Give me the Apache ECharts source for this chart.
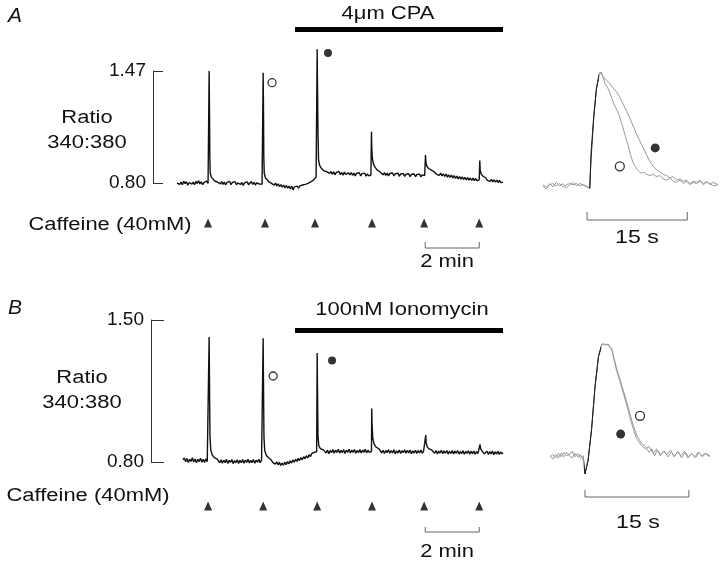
<!DOCTYPE html>
<html>
<head>
<meta charset="utf-8">
<script src="https://cdn.jsdelivr.net/npm/echarts@6/dist/echarts.min.js"></script>
<style>
  html, body { margin: 0; background: #fff; }
  #chart { width: 726px; height: 566px; }
</style>
</head>
<body>
<div id="chart"></div>
<script>
// ---- data (time in min for the long traces, s for the insets) ----
const traceA = [
  [0.00,0.800],[0.05,0.810],[0.10,0.792],[0.15,0.806],[0.20,0.789],[0.25,0.811],[0.30,0.796],[0.35,0.808],[0.40,0.787],[0.45,0.803],
  [0.50,0.812],[0.55,0.793],[0.60,0.806],[0.65,0.790],[0.70,0.809],[0.75,0.797],[0.80,0.814],[0.85,0.794],[0.90,0.808],[0.95,0.790],
  [1.00,0.804],[1.05,0.793],[1.10,0.811],[1.15,0.797],
  [1.18,0.802],[1.19,1.47],[1.20,1.30],[1.215,0.96],[1.23,0.86],[1.27,0.835],[1.34,0.825],[1.40,0.812],[1.45,0.820],[1.50,0.806],
  [1.55,0.814],[1.60,0.795],[1.65,0.808],[1.70,0.792],[1.75,0.806],[1.80,0.788],[1.85,0.804],[1.90,0.794],[1.95,0.810],[2.00,0.790],
  [2.05,0.803],[2.10,0.792],[2.15,0.808],[2.20,0.789],[2.25,0.801],[2.30,0.809],[2.35,0.791],[2.40,0.803],[2.45,0.786],[2.50,0.801],
  [2.55,0.793],[2.60,0.807],[2.65,0.790],[2.70,0.800],[2.75,0.809],[2.80,0.792],[2.85,0.804],[2.90,0.788],[2.95,0.801],[3.00,0.809],
  [3.05,0.794],[3.10,0.805],[3.15,0.793],
  [3.18,0.801],[3.19,1.46],[3.20,1.28],[3.215,0.95],[3.23,0.86],[3.27,0.832],[3.34,0.820],[3.40,0.806],[3.45,0.812],[3.50,0.798],
  [3.55,0.803],[3.60,0.787],[3.65,0.799],[3.70,0.783],[3.75,0.795],[3.80,0.778],[3.85,0.791],[3.90,0.775],[3.95,0.788],[4.00,0.771],
  [4.05,0.785],[4.10,0.769],[4.15,0.782],[4.20,0.765],[4.25,0.780],[4.30,0.758],[4.35,0.777],[4.40,0.767],[4.45,0.781],[4.50,0.769],
  [4.55,0.783],[4.60,0.773],[4.65,0.788],[4.70,0.777],[4.75,0.792],[4.80,0.783],[4.85,0.798],[4.90,0.790],[4.95,0.806],[5.00,0.802],
  [5.05,0.817],[5.10,0.820],[5.15,0.836],
  [5.18,0.840],[5.19,1.60],[5.20,1.42],[5.22,1.10],[5.24,0.94],[5.28,0.905],[5.36,0.885],[5.45,0.872],[5.54,0.868],
  [5.60,0.875],[5.65,0.857],[5.70,0.869],[5.75,0.852],[5.80,0.867],[5.85,0.849],[5.90,0.864],[5.95,0.854],[6.00,0.869],[6.05,0.850],
  [6.10,0.863],[6.15,0.847],[6.20,0.865],[6.25,0.852],[6.30,0.844],[6.35,0.861],[6.40,0.848],[6.45,0.863],[6.50,0.846],[6.55,0.859],
  [6.60,0.843],[6.65,0.858],[6.70,0.847],[6.75,0.861],[6.80,0.842],[6.85,0.856],[6.90,0.845],[6.95,0.859],[7.00,0.841],[7.05,0.855],
  [7.10,0.843],[7.15,0.852],
  [7.18,0.848],[7.20,1.107],[7.21,1.02],[7.23,0.95],[7.27,0.915],[7.33,0.895],[7.40,0.880],[7.46,0.872],[7.52,0.866],
  [7.58,0.863],[7.63,0.849],[7.68,0.862],[7.73,0.845],[7.78,0.859],[7.83,0.843],[7.88,0.857],[7.93,0.846],[7.98,0.860],[8.03,0.842],
  [8.08,0.855],[8.13,0.844],[8.18,0.858],[8.23,0.840],[8.28,0.854],[8.33,0.843],[8.38,0.856],[8.43,0.839],[8.48,0.853],[8.53,0.842],
  [8.58,0.855],[8.63,0.838],[8.68,0.852],[8.73,0.841],[8.78,0.854],[8.83,0.837],[8.88,0.851],[8.93,0.840],[8.98,0.853],[9.03,0.836],
  [9.08,0.849],[9.13,0.839],
  [9.17,0.845],[9.20,0.968],[9.215,0.925],[9.25,0.900],[9.31,0.888],[9.40,0.878],[9.50,0.870],
  [9.56,0.865],[9.61,0.852],[9.66,0.863],[9.71,0.845],[9.76,0.859],[9.81,0.842],[9.86,0.855],[9.91,0.839],[9.96,0.853],[10.01,0.835],
  [10.06,0.849],[10.11,0.833],[10.16,0.847],[10.21,0.830],[10.26,0.844],[10.31,0.828],[10.36,0.841],[10.41,0.825],[10.46,0.839],[10.51,0.823],
  [10.56,0.837],[10.61,0.821],[10.66,0.834],[10.71,0.819],[10.76,0.832],[10.81,0.817],[10.86,0.830],[10.91,0.815],[10.96,0.829],[11.01,0.814],
  [11.06,0.827],[11.11,0.813],[11.16,0.824],
  [11.19,0.820],[11.21,0.934],[11.225,0.880],[11.26,0.855],[11.32,0.842],[11.38,0.836],
  [11.44,0.830],[11.49,0.816],[11.54,0.826],[11.59,0.810],[11.64,0.822],[11.69,0.807],[11.74,0.819],[11.79,0.805],[11.84,0.817],[11.89,0.803],
  [11.94,0.815],[11.99,0.802],[12.04,0.811],[12.07,0.805]
];

const traceB = [
  [0.22,0.810],[0.27,0.820],[0.32,0.801],[0.37,0.817],[0.42,0.798],[0.47,0.814],[0.52,0.803],[0.57,0.821],[0.62,0.800],[0.67,0.815],
  [0.72,0.796],[0.77,0.813],[0.82,0.802],[0.87,0.818],[0.92,0.799],[0.97,0.814],[1.02,0.797],[1.07,0.816],[1.12,0.801],[1.16,0.810],
  [1.18,0.808],[1.19,1.416],[1.20,1.24],[1.22,0.93],[1.25,0.86],[1.30,0.835],[1.38,0.822],[1.48,0.815],
  [1.53,0.813],[1.58,0.796],[1.63,0.811],[1.68,0.794],[1.73,0.809],[1.78,0.797],[1.83,0.813],[1.88,0.793],[1.93,0.808],[1.98,0.798],
  [2.03,0.812],[2.08,0.792],[2.13,0.807],[2.18,0.796],[2.23,0.811],[2.28,0.793],[2.33,0.808],[2.38,0.797],[2.43,0.812],[2.48,0.794],
  [2.53,0.809],[2.58,0.798],[2.63,0.813],[2.68,0.795],[2.73,0.808],[2.78,0.797],[2.83,0.812],[2.88,0.794],[2.93,0.809],[2.98,0.799],
  [3.03,0.814],[3.08,0.796],[3.13,0.810],[3.16,0.803],
  [3.18,0.806],[3.19,1.41],[3.20,1.22],[3.22,0.92],[3.25,0.855],[3.31,0.832],[3.38,0.822],[3.44,0.815],
  [3.49,0.810],[3.54,0.798],[3.59,0.807],[3.64,0.790],[3.69,0.801],[3.74,0.786],[3.79,0.798],[3.84,0.783],[3.89,0.795],[3.94,0.784],
  [3.99,0.799],[4.04,0.787],[4.09,0.802],[4.14,0.791],[4.19,0.806],[4.24,0.795],[4.29,0.810],[4.34,0.799],[4.39,0.814],[4.44,0.803],
  [4.49,0.818],[4.54,0.807],[4.59,0.822],[4.64,0.811],[4.69,0.826],[4.74,0.816],[4.79,0.831],[4.84,0.820],[4.89,0.836],[4.94,0.826],
  [4.99,0.842],[5.04,0.833],[5.09,0.848],[5.14,0.840],[5.17,0.850],
  [5.18,0.852],[5.19,1.337],[5.20,1.18],[5.22,0.93],[5.25,0.880],[5.31,0.866],[5.36,0.862],[5.42,0.860],
  [5.47,0.860],[5.52,0.844],[5.57,0.859],[5.62,0.841],[5.67,0.857],[5.72,0.846],[5.77,0.862],[5.82,0.843],[5.87,0.858],[5.92,0.847],
  [5.97,0.863],[6.02,0.844],[6.07,0.857],[6.12,0.846],[6.17,0.861],[6.22,0.842],[6.27,0.858],[6.32,0.848],[6.37,0.863],[6.42,0.844],
  [6.47,0.859],[6.52,0.847],[6.57,0.862],[6.62,0.843],[6.67,0.857],[6.72,0.846],[6.77,0.861],[6.82,0.844],[6.87,0.859],[6.92,0.848],
  [6.97,0.863],[7.02,0.845],[7.07,0.858],[7.12,0.847],[7.17,0.855],
  [7.20,0.852],[7.21,1.064],[7.22,0.99],[7.25,0.915],[7.30,0.888],[7.36,0.875],[7.42,0.868],[7.48,0.864],
  [7.53,0.860],[7.58,0.845],[7.63,0.858],[7.68,0.842],[7.73,0.857],[7.78,0.846],[7.83,0.861],[7.88,0.843],[7.93,0.856],[7.98,0.845],
  [8.03,0.860],[8.08,0.841],[8.13,0.855],[8.18,0.844],[8.23,0.859],[8.28,0.842],[8.33,0.856],[8.38,0.846],[8.43,0.860],[8.48,0.843],
  [8.53,0.857],[8.58,0.845],[8.63,0.859],[8.68,0.841],[8.73,0.855],[8.78,0.844],[8.83,0.858],[8.88,0.842],[8.93,0.856],[8.98,0.845],
  [9.03,0.859],[9.08,0.843],[9.13,0.854],[9.17,0.848],
  [9.20,0.850],[9.21,0.933],[9.225,0.895],[9.26,0.876],[9.32,0.866],[9.38,0.861],[9.44,0.858],
  [9.49,0.855],[9.54,0.843],[9.59,0.857],[9.64,0.840],[9.69,0.854],[9.74,0.844],[9.79,0.858],[9.84,0.841],[9.89,0.855],[9.94,0.843],
  [9.99,0.857],[10.04,0.839],[10.09,0.853],[10.14,0.842],[10.19,0.856],[10.24,0.840],[10.29,0.854],[10.34,0.843],[10.39,0.857],[10.44,0.839],
  [10.49,0.852],[10.54,0.841],[10.59,0.855],[10.64,0.838],[10.69,0.852],[10.74,0.842],[10.79,0.856],[10.84,0.839],[10.89,0.853],[10.94,0.841],
  [10.99,0.854],[11.04,0.838],[11.09,0.851],[11.14,0.841],[11.19,0.847],
  [11.21,0.845],[11.22,0.887],[11.24,0.866],[11.29,0.855],
  [11.33,0.852],[11.38,0.841],[11.43,0.839],[11.48,0.853],[11.53,0.837],[11.58,0.851],[11.63,0.840],[11.68,0.854],[11.73,0.836],[11.78,0.850],
  [11.83,0.839],[11.88,0.853],[11.93,0.837],[11.98,0.850],[12.03,0.840],[12.07,0.846]
];

// insets: normalised ratio vs time (s); "open" = control, "filled" = in drug
const insetAOpen = [
  [0,0.01],[0.5,-0.02],[1,0.03],[1.5,0],[2,0.04],[2.5,0.01],[3,0.03],[3.5,-0.01],[4,0.02],[4.5,0.04],[5,0.01],[5.5,0.03],[6,0.02],[6.5,0.01],[7,-0.01],
  [7.2,0.25],[7.6,0.6],[8.0,0.85],[8.4,0.98],[8.6,1.0],[8.9,0.97],
  [9.3,0.9],[9.8,0.85],[10.3,0.77],[10.8,0.7],[11.3,0.64],[11.8,0.55],[12.3,0.45],[12.7,0.37],[13.1,0.28],[13.5,0.21],[13.9,0.17],[14.3,0.14],
  [14.7,0.12],[15.1,0.13],[15.5,0.11],[16,0.1],[16.5,0.11],[17,0.09],[17.5,0.1],[18,0.07],[18.5,0.06],[19,0.08],[19.5,0.05],[20,0.04],
  [20.5,0.06],[21,0.03],[21.5,0.05],[22,0.02],[22.5,0.04],[23,0.03],[23.5,0.05],[24,0.02],[24.5,0.04],[25,0.03],[25.5,0.01],[26.2,0.02]
];
const insetAFilled = [
  [0,0.02],[0.5,0],[1,0.02],[1.5,0.03],[2,0.01],[2.5,0.03],[3,0],[3.5,0.02],[4,0.03],[4.5,0.02],[5,0.03],[5.5,0.01],[6,0.02],[6.5,0],[7,-0.01],
  [7.2,0.3],[7.6,0.62],[8,0.86],[8.4,0.97],[8.7,1.0],[9,0.96],
  [9.5,0.93],[10,0.9],[10.5,0.86],[11,0.83],[11.5,0.78],[12,0.72],[12.5,0.66],[13,0.6],[13.5,0.53],[14,0.46],[14.5,0.4],[15,0.34],
  [15.5,0.28],[16,0.22],[16.5,0.18],[17,0.15],[17.5,0.13],[18,0.11],[18.5,0.1],[19,0.08],[19.5,0.09],[20,0.06],[20.5,0.07],[21,0.05],
  [21.5,0.06],[22,0.03],[22.5,0.05],[23,0.04],[23.5,0.06],[24,0.03],[24.5,0.05],[25,0.02],[25.5,0.04],[26.2,0.02]
];
const insetBOpen = [
  [0,0.02],[0.4,-0.01],[0.8,0.03],[1.2,0.0],[1.6,0.04],[2.0,0.01],[2.4,0.05],[2.8,0.02],[3.2,0.0],[3.6,0.04],[4.0,0.01],[4.4,0.03],[4.8,-0.02],
  [5.05,-0.14],[5.5,-0.02],[6.0,0.25],[6.5,0.62],[7.0,0.89],[7.5,1.0],[7.9,0.99],[8.4,1.0],[8.9,0.96],[9.6,0.79],[10.3,0.65],[11.0,0.51],
  [11.8,0.33],[12.5,0.20],[13.2,0.13],[13.8,0.10],[14.3,0.05],[14.7,0.08],[15.1,0.02],[15.5,0.07],[16,0.03],[16.5,0.06],[17,0.01],[17.5,0.05],
  [18,0.02],[18.5,0.06],[19,0.0],[19.5,0.05],[20,0.01],[20.5,0.04],[21,0.0],[21.5,0.05],[22,0.01],[22.5,0.04],[23.1,0.02]
];
const insetBFilled = [
  [0,0.01],[0.4,0.03],[0.8,0.0],[1.2,0.04],[1.6,0.01],[2.0,0.05],[2.4,0.02],[2.8,0.03],[3.2,0.06],[3.6,0.01],[4.0,0.04],[4.4,0.0],[4.8,0.02],
  [5.05,-0.14],[5.5,-0.02],[6.0,0.25],[6.5,0.63],[7.0,0.89],[7.5,1.0],[7.9,1.0],[8.4,0.99],[8.9,0.95],[9.6,0.77],[10.3,0.63],[11.0,0.48],
  [11.8,0.30],[12.5,0.17],[13.2,0.11],[13.8,0.08],[14.3,0.1],[14.9,0.04],[15.4,0.08],[15.9,0.02],[16.4,0.06],[16.9,0.03],[17.4,0.07],
  [17.9,0.01],[18.4,0.05],[18.9,0.02],[19.4,0.06],[19.9,0.0],[20.4,0.04],[20.9,0.01],[21.4,0.05],[21.9,0.02],[22.4,0.04],[23.1,0.01]
];

const caffeineA = [1.15, 3.26, 5.11, 7.22, 9.15, 11.19];
const caffeineB = [1.15, 3.19, 5.19, 7.22, 9.15, 11.19];
const cpaPeriod = [4.37, 12.07];
const ionoPeriod = [4.37, 12.07];
const minBar = [9.19, 11.19];      // 2 min
const secBarA = [6.6, 21.6];       // 15 s
const secBarB = [5.05, 20.05];     // 15 s
const ticksA = [0.80, 1.47];
const ticksB = [0.80, 1.50];
// open / filled circle markers [time, value]
const openA = [3.52, 1.40], filledA = [5.59, 1.578];
const openB = [3.56, 1.224], filledB = [5.74, 1.30];
const openInsetA = [11.5, 0.18], filledInsetA = [16.8, 0.34];
const openInsetB = [13.0, 0.37], filledInsetB = [10.2, 0.21];

// ---- chart ----
const FONT = "'Liberation Sans', Arial, Helvetica, sans-serif";
const chart = echarts.init(document.getElementById('chart'));

function hiddenX(max) {
  return { type: 'value', min: 0, max: max, show: false };
}
function hiddenY(gridIndex, max, inverse) {
  return { type: 'value', gridIndex: gridIndex, min: 0, max: max, inverse: !!inverse, show: false };
}
function ratioAxis(gridIndex, ticks, offset, tickLen) {
  return {
    type: 'value', gridIndex: gridIndex, min: ticks[0], max: ticks[1], offset: offset,
    axisLine: { show: true, onZero: false, lineStyle: { color: '#333', width: 1 } },
    axisTick: { show: true, inside: true, length: tickLen, customValues: ticks, lineStyle: { color: '#333', width: 1 } },
    axisLabel: { customValues: ticks, formatter: v => v.toFixed(2), fontSize: 19, fontFamily: FONT, color: '#111', margin: 7 },
    splitLine: { show: false }
  };
}
function line(xi, data, color, width, extra) {
  const ls = { width: width };
  if (color) ls.color = color;   // no colour -> taken from visualMap
  return Object.assign({ type: 'line', xAxisIndex: xi, yAxisIndex: xi, data: data, showSymbol: false,
    symbol: 'none', lineStyle: ls, clip: false, silent: true }, extra || {});
}
function dots(xi, data, open, size) {
  return { type: 'scatter', xAxisIndex: xi, yAxisIndex: xi, data: data, symbol: 'circle', symbolSize: size, clip: false,
    itemStyle: open ? { color: '#fff', borderColor: '#000', borderWidth: 1.3 } : { color: '#000' } };
}
function triangles(xi, times) {
  return { type: 'scatter', xAxisIndex: xi, yAxisIndex: xi, data: times.map(t => [t, 8]), symbol: 'triangle',
    symbolSize: [8, 9], itemStyle: { color: '#000' }, clip: false };
}
function scaleBar(xi, span, yLine, yTick) {
  return line(xi, [[span[0], yTick], [span[0], yLine], [span[1], yLine], [span[1], yTick]], '#666', 1);
}
function txt(x, y, s, size, extra) {
  return Object.assign({ type: 'text', x: x, y: y, scaleX: 1.22, silent: true,
    style: { text: s, fontSize: size, fontFamily: FONT, fill: '#111',
      align: 'center', verticalAlign: 'middle', textAlign: 'center', textVerticalAlign: 'middle' } }, extra || {});
}

const option = {
  animation: false,
  backgroundColor: '#fff',
  grid: [
    { left: 177, top: 71,  width: 326, height: 112 },  // 0 A trace
    { left: 177, top: 22,  width: 326, height: 15 },   // 1 A drug bar
    { left: 177, top: 215, width: 326, height: 40 },   // 2 A caffeine row
    { left: 543, top: 72,  width: 175, height: 115 },  // 3 A inset
    { left: 543, top: 205, width: 175, height: 30 },   // 4 A inset scale
    { left: 177, top: 320, width: 326, height: 142 },  // 5 B trace
    { left: 177, top: 323, width: 326, height: 15 },   // 6 B drug bar
    { left: 177, top: 498, width: 326, height: 40 },   // 7 B caffeine row
    { left: 550, top: 344, width: 160, height: 114 },  // 8 B inset
    { left: 550, top: 480, width: 160, height: 30 }    // 9 B inset scale
  ],
  xAxis: [
    hiddenX(12.07), hiddenX(12.07), hiddenX(12.07), hiddenX(26.2), hiddenX(26.2),
    hiddenX(12.07), hiddenX(12.07), hiddenX(12.07), hiddenX(23.1), hiddenX(23.1)
  ].map((a, i) => Object.assign(a, { gridIndex: i })),
  yAxis: [
    ratioAxis(0, ticksA, 24, 10),
    hiddenY(1, 1), hiddenY(2, 40, true), hiddenY(3, 1), hiddenY(4, 30, true),
    ratioAxis(5, ticksB, 26, 13),
    hiddenY(6, 1), hiddenY(7, 40, true), hiddenY(8, 1), hiddenY(9, 30, true)
  ],
  // inset rising phase drawn dark, the rest light grey
  visualMap: [
    { type: 'piecewise', show: false, dimension: 0, seriesIndex: [5, 6],
      pieces: [{ lt: 6.9, color: '#999' }, { gte: 6.9, lte: 8.4, color: '#222' }, { gt: 8.4, color: '#999' }] },
    { type: 'piecewise', show: false, dimension: 0, seriesIndex: [13, 14],
      pieces: [{ lt: 4.9, color: '#999' }, { gte: 4.9, lte: 7.4, color: '#222' }, { gt: 7.4, color: '#999' }] }
  ],
  series: [
    // panel A
    line(0, traceA, '#111', 1.4),                                        // 0
    line(1, cpaPeriod.map(t => [t, 0.5]), '#000', 5),                    // 1
    triangles(2, caffeineA),                                             // 2
    scaleBar(2, minBar, 33, 27),                                         // 3
    scaleBar(4, secBarA, 15, 7),                                         // 4
    line(3, insetAOpen, null, 1),                                        // 5
    line(3, insetAFilled, null, 1),                                      // 6
    dots(0, [openA], true, 8),                                           // 7
    dots(0, [filledA], false, 8),                                        // 8
    dots(3, [openInsetA], true, 9),                                      // 9
    dots(3, [filledInsetA], false, 9),                                   // 10
    // panel B
    line(5, traceB, '#111', 1.4),                                        // 11
    line(6, ionoPeriod.map(t => [t, 0.5]), '#000', 5),                   // 12
    line(8, insetBOpen, null, 1),                                        // 13
    line(8, insetBFilled, null, 1),                                      // 14
    triangles(7, caffeineB),                                             // 15
    scaleBar(7, minBar, 34, 29),                                         // 16
    scaleBar(9, secBarB, 17, 10),                                        // 17
    dots(5, [openB], true, 8),                                           // 18
    dots(5, [filledB], false, 8),                                        // 19
    dots(8, [openInsetB], true, 9),                                      // 20
    dots(8, [filledInsetB], false, 9)                                    // 21
  ],
  graphic: [
    txt(15, 16, 'A', 21, { scaleX: 1 }),
    txt(15, 308, 'B', 21, { scaleX: 1 }),
    txt(388, 14, '4\u03bcm CPA', 18),
    txt(402, 310, '100nM Ionomycin', 18),
    txt(87, 118, 'Ratio', 18),
    txt(87, 143, '340:380', 18),
    txt(82, 378, 'Ratio', 18),
    txt(82, 403, '340:380', 18),
    txt(110, 225, 'Caffeine (40mM)', 18),
    txt(88, 496, 'Caffeine (40mM)', 18),
    txt(447, 262, '2 min', 18),
    txt(447, 552, '2 min', 18),
    txt(637, 238, '15 s', 19),
    txt(638, 523, '15 s', 19)
  ]
};
// italic panel letters
option.graphic[0].style.fontStyle = 'italic';
option.graphic[1].style.fontStyle = 'italic';

chart.setOption(option);
</script>
</body>
</html>
